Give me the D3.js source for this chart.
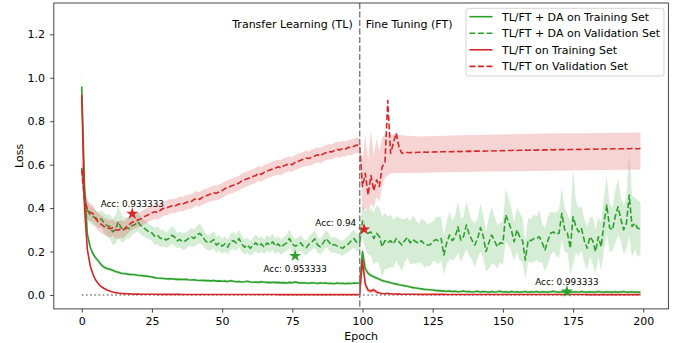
<!DOCTYPE html>
<html><head><meta charset="utf-8">
<script src="https://cdn.jsdelivr.net/npm/d3@7"></script>
<style>body{margin:0;background:#fff}svg{display:block;font-family:"DejaVu Sans",sans-serif}</style>
</head><body><svg id="c" width="678" height="343"></svg>
<script>
// ---------------- DATA ----------------
const epochs = d3.range(200);
const xTicks = [0,25,50,75,100,125,150,175,200];
const yTicks = [0,0.2,0.4,0.6,0.8,1.0,1.2];
const legendLabels = ["TL/FT + DA on Training Set","TL/FT + DA on Validation Set","TL/FT on Training Set","TL/FT on Validation Set"];
const phaseLabels = ["Transfer Learning (TL)","Fine Tuning (FT)"];
const phaseSplit = 99;

const gTrain = [
0.96,0.50,0.28,0.22,0.19,0.17,0.155,0.138,0.128,0.122,
0.118,0.114,0.108,0.105,0.100,0.099,0.097,0.095,0.094,0.093,
0.091,0.090,0.088,0.087,0.085,0.083,0.080,0.078,0.077,0.076,
0.075,0.074,0.075,0.073,0.072,0.072,0.071,0.072,0.070,0.069,
0.070,0.068,0.067,0.068,0.066,0.066,0.065,0.067,0.064,0.065,
0.063,0.064,0.062,0.066,0.063,0.061,0.062,0.060,0.061,0.063,
0.060,0.059,0.060,0.058,0.061,0.059,0.058,0.057,0.059,0.057,
0.058,0.056,0.057,0.055,0.058,0.056,0.060,0.057,0.055,0.056,
0.055,0.054,0.056,0.055,0.053,0.056,0.054,0.055,0.053,0.054,
0.052,0.055,0.053,0.054,0.052,0.054,0.053,0.055,0.054,0.055,
0.200,0.120,0.100,0.090,0.084,0.078,0.072,0.067,0.063,0.060,
0.056,0.053,0.050,0.047,0.045,0.042,0.040,0.037,0.034,0.032,
0.030,0.028,0.026,0.025,0.024,0.023,0.021,0.020,0.019,0.018,
0.017,0.018,0.016,0.017,0.015,0.016,0.018,0.015,0.016,0.014,
0.015,0.017,0.014,0.016,0.015,0.013,0.016,0.014,0.015,0.017,
0.014,0.015,0.013,0.016,0.014,0.015,0.013,0.014,0.016,0.013,
0.015,0.014,0.016,0.013,0.015,0.014,0.013,0.015,0.017,0.014,
0.013,0.015,0.014,0.016,0.013,0.014,0.015,0.013,0.016,0.014,
0.013,0.015,0.014,0.013,0.016,0.014,0.013,0.015,0.014,0.013,
0.015,0.013,0.014,0.016,0.013,0.014,0.015,0.013,0.014,0.012];

const gTrainSd = [
0.100,0.050,0.025,0.015,0.012,0.010,0.009,0.008,0.008,0.008,
0.008,0.007,0.008,0.007,0.007,0.008,0.007,0.007,0.006,0.007,
0.007,0.006,0.007,0.007,0.006,0.007,0.006,0.006,0.007,0.006,
0.006,0.007,0.006,0.006,0.007,0.006,0.006,0.007,0.006,0.006,
0.006,0.007,0.006,0.006,0.007,0.006,0.006,0.007,0.006,0.006,
0.006,0.007,0.006,0.006,0.007,0.006,0.006,0.007,0.006,0.006,
0.006,0.007,0.006,0.006,0.007,0.006,0.006,0.007,0.006,0.006,
0.006,0.007,0.006,0.006,0.007,0.006,0.006,0.007,0.006,0.006,
0.006,0.007,0.006,0.006,0.007,0.006,0.006,0.007,0.006,0.006,
0.006,0.007,0.006,0.006,0.007,0.006,0.006,0.007,0.006,0.006,
0.030,0.015,0.012,0.010,0.009,0.009,0.008,0.008,0.007,0.007,
0.007,0.006,0.007,0.006,0.006,0.007,0.006,0.006,0.007,0.006,
0.007,0.006,0.007,0.006,0.006,0.007,0.006,0.006,0.007,0.006,
0.007,0.006,0.007,0.006,0.006,0.007,0.006,0.006,0.007,0.006,
0.007,0.006,0.007,0.006,0.006,0.007,0.006,0.006,0.007,0.006,
0.007,0.006,0.007,0.006,0.006,0.007,0.006,0.006,0.007,0.006,
0.007,0.006,0.007,0.006,0.006,0.007,0.006,0.006,0.007,0.006,
0.007,0.006,0.007,0.006,0.006,0.007,0.006,0.006,0.007,0.006,
0.007,0.006,0.007,0.006,0.006,0.007,0.006,0.006,0.007,0.006,
0.007,0.006,0.007,0.006,0.006,0.007,0.006,0.006,0.007,0.006];

const gVal = [
0.585,0.440,0.390,0.370,0.360,0.355,0.345,0.350,0.330,0.320,
0.315,0.290,0.300,0.337,0.310,0.300,0.310,0.305,0.320,0.325,
0.337,0.320,0.310,0.300,0.290,0.285,0.270,0.275,0.260,0.262,
0.253,0.260,0.275,0.268,0.250,0.255,0.245,0.250,0.260,0.268,
0.260,0.275,0.284,0.270,0.250,0.240,0.245,0.255,0.230,0.240,
0.225,0.235,0.220,0.245,0.250,0.240,0.260,0.235,0.220,0.230,
0.215,0.228,0.240,0.225,0.235,0.220,0.240,0.230,0.245,0.225,
0.235,0.220,0.232,0.240,0.260,0.235,0.225,0.230,0.240,0.222,
0.218,0.235,0.245,0.258,0.230,0.222,0.240,0.260,0.245,0.228,
0.232,0.225,0.220,0.215,0.228,0.235,0.250,0.260,0.240,0.245,
0.340,0.300,0.284,0.290,0.260,0.284,0.270,0.222,0.250,0.240,
0.250,0.235,0.260,0.245,0.230,0.250,0.265,0.240,0.255,0.245,
0.238,0.250,0.235,0.230,0.230,0.245,0.255,0.250,0.260,0.184,
0.240,0.276,0.250,0.268,0.314,0.253,0.270,0.322,0.280,0.253,
0.230,0.260,0.310,0.270,0.200,0.240,0.276,0.250,0.222,0.240,
0.238,0.368,0.337,0.300,0.245,0.300,0.268,0.250,0.161,0.253,
0.250,0.260,0.262,0.268,0.240,0.207,0.250,0.284,0.290,0.280,
0.284,0.376,0.300,0.284,0.215,0.360,0.314,0.290,0.306,0.250,
0.215,0.268,0.250,0.200,0.268,0.222,0.330,0.414,0.310,0.300,
0.360,0.406,0.350,0.300,0.330,0.460,0.315,0.330,0.307,0.305];

const gValSd = [
0.060,0.050,0.045,0.040,0.040,0.035,0.035,0.040,0.045,0.050,
0.055,0.060,0.065,0.070,0.065,0.055,0.050,0.045,0.045,0.040,
0.045,0.040,0.040,0.038,0.035,0.035,0.040,0.042,0.040,0.036,
0.035,0.038,0.042,0.040,0.035,0.036,0.040,0.038,0.036,0.040,
0.040,0.042,0.045,0.040,0.036,0.035,0.038,0.040,0.036,0.035,
0.035,0.036,0.034,0.038,0.040,0.036,0.040,0.038,0.035,0.034,
0.034,0.035,0.038,0.036,0.035,0.034,0.036,0.035,0.038,0.035,
0.036,0.034,0.035,0.038,0.040,0.036,0.035,0.034,0.036,0.035,
0.034,0.036,0.038,0.040,0.036,0.035,0.038,0.040,0.038,0.035,
0.036,0.035,0.034,0.035,0.036,0.038,0.040,0.042,0.040,0.040,
0.075,0.090,0.100,0.110,0.120,0.130,0.130,0.140,0.130,0.120,
0.120,0.110,0.100,0.110,0.120,0.100,0.090,0.100,0.110,0.100,
0.090,0.100,0.110,0.095,0.100,0.090,0.100,0.110,0.100,0.090,
0.100,0.110,0.090,0.100,0.120,0.100,0.090,0.110,0.100,0.090,
0.100,0.090,0.110,0.100,0.090,0.120,0.130,0.110,0.100,0.090,
0.100,0.120,0.110,0.100,0.090,0.100,0.110,0.100,0.090,0.100,
0.100,0.110,0.100,0.120,0.090,0.100,0.110,0.100,0.090,0.100,
0.110,0.120,0.100,0.090,0.120,0.220,0.120,0.110,0.100,0.100,
0.100,0.090,0.110,0.100,0.090,0.110,0.120,0.130,0.110,0.100,
0.120,0.130,0.100,0.110,0.120,0.190,0.140,0.120,0.130,0.120];

const rTrain = [
0.920,0.400,0.210,0.135,0.095,0.068,0.050,0.038,0.030,0.023,
0.018,0.014,0.011,0.009,0.0075,0.0065,0.0055,0.005,0.0045,0.004,
0.0038,0.0036,0.0035,0.0034,0.0033,0.0032,0.0031,0.003,0.003,0.0029,
0.0029,0.0028,0.0028,0.0027,0.0027,0.0027,0.0026,0.0026,0.0026,0.0025,
0.0025,0.0025,0.0025,0.0024,0.0024,0.0024,0.0024,0.0023,0.0023,0.0023,
0.0023,0.0023,0.0022,0.0022,0.0022,0.0022,0.0022,0.0021,0.0021,0.0021,
0.0021,0.0021,0.0021,0.002,0.002,0.002,0.002,0.002,0.002,0.002,
0.0019,0.0019,0.0019,0.0019,0.0019,0.0019,0.0019,0.0019,0.0019,0.0019,
0.0019,0.0019,0.0018,0.0018,0.0018,0.0018,0.0018,0.0018,0.0018,0.0018,
0.0018,0.0018,0.0018,0.0018,0.0018,0.0018,0.0018,0.0018,0.0018,0.0018,
0.160,0.050,0.022,0.018,0.024,0.014,0.009,0.007,0.006,0.008,
0.005,0.0045,0.004,0.0038,0.0036,0.0035,0.0034,0.0033,0.0032,0.0031,
0.003,0.003,0.0029,0.0029,0.0028,0.0028,0.0028,0.0027,0.0027,0.0027,
0.0026,0.0026,0.0026,0.0026,0.0025,0.0025,0.0025,0.0025,0.0025,0.0024,
0.0024,0.0024,0.0024,0.0024,0.0023,0.0023,0.0023,0.0023,0.0023,0.0023,
0.0022,0.0022,0.0022,0.0022,0.0022,0.0022,0.0022,0.0021,0.0021,0.0021,
0.0021,0.0021,0.0021,0.0021,0.0021,0.002,0.002,0.002,0.002,0.002,
0.002,0.002,0.002,0.002,0.002,0.002,0.002,0.002,0.002,0.002,
0.0019,0.0019,0.0019,0.0019,0.0019,0.0019,0.0019,0.0019,0.0019,0.0019,
0.0019,0.0019,0.0019,0.0019,0.0019,0.0019,0.0019,0.0019,0.0019,0.0019];

const rTrainSd = [
0.080,0.040,0.020,0.012,0.008,0.006,0.005,0.004,0.003,0.003,
0.002,0.002,0.002,0.002,0.002,0.002,0.002,0.002,0.002,0.002,
0.001,0.001,0.001,0.001,0.001,0.001,0.001,0.001,0.001,0.001,
0.001,0.001,0.001,0.001,0.001,0.001,0.001,0.001,0.001,0.001,
0.001,0.001,0.001,0.001,0.001,0.001,0.001,0.001,0.001,0.001,
0.001,0.001,0.001,0.001,0.001,0.001,0.001,0.001,0.001,0.001,
0.001,0.001,0.001,0.001,0.001,0.001,0.001,0.001,0.001,0.001,
0.001,0.001,0.001,0.001,0.001,0.001,0.001,0.001,0.001,0.001,
0.001,0.001,0.001,0.001,0.001,0.001,0.001,0.001,0.001,0.001,
0.001,0.001,0.001,0.001,0.001,0.001,0.001,0.001,0.001,0.001,
0.040,0.020,0.010,0.010,0.012,0.008,0.005,0.003,0.003,0.004,
0.002,0.002,0.002,0.002,0.002,0.002,0.002,0.002,0.002,0.002,
0.001,0.001,0.001,0.001,0.001,0.001,0.001,0.001,0.001,0.001,
0.001,0.001,0.001,0.001,0.001,0.001,0.001,0.001,0.001,0.001,
0.001,0.001,0.001,0.001,0.001,0.001,0.001,0.001,0.001,0.001,
0.001,0.001,0.001,0.001,0.001,0.001,0.001,0.001,0.001,0.001,
0.001,0.001,0.001,0.001,0.001,0.001,0.001,0.001,0.001,0.001,
0.001,0.001,0.001,0.001,0.001,0.001,0.001,0.001,0.001,0.001,
0.001,0.001,0.001,0.001,0.001,0.001,0.001,0.001,0.001,0.001,
0.001,0.001,0.001,0.001,0.001,0.001,0.001,0.001,0.001,0.001];

const rVal = [
0.575,0.440,0.395,0.380,0.375,0.350,0.335,0.325,0.315,0.310,
0.305,0.310,0.300,0.298,0.305,0.300,0.315,0.325,0.335,0.340,
0.345,0.350,0.360,0.365,0.372,0.378,0.383,0.380,0.390,0.398,
0.400,0.405,0.410,0.408,0.415,0.420,0.418,0.425,0.430,0.430,
0.440,0.445,0.440,0.450,0.455,0.460,0.465,0.470,0.468,0.475,
0.480,0.490,0.495,0.500,0.505,0.510,0.515,0.525,0.530,0.535,
0.540,0.545,0.550,0.560,0.555,0.565,0.570,0.575,0.580,0.585,
0.590,0.585,0.595,0.600,0.605,0.600,0.610,0.615,0.620,0.625,
0.630,0.628,0.635,0.640,0.645,0.640,0.650,0.655,0.660,0.658,
0.665,0.670,0.668,0.675,0.672,0.680,0.678,0.685,0.690,0.685,
0.500,0.560,0.460,0.550,0.480,0.530,0.500,0.590,0.610,0.895,
0.652,0.700,0.745,0.680,0.652,0.655,0.656,0.655,0.657,0.656,
0.657,0.657,0.658,0.657,0.658,0.658,0.659,0.658,0.659,0.659,
0.660,0.659,0.660,0.660,0.661,0.660,0.661,0.661,0.662,0.661,
0.662,0.662,0.663,0.662,0.663,0.663,0.664,0.663,0.664,0.664,
0.665,0.664,0.665,0.665,0.666,0.665,0.666,0.666,0.667,0.666,
0.667,0.667,0.667,0.668,0.667,0.668,0.668,0.669,0.668,0.669,
0.669,0.669,0.670,0.669,0.670,0.670,0.670,0.671,0.670,0.671,
0.671,0.671,0.672,0.671,0.672,0.672,0.672,0.673,0.672,0.673,
0.673,0.672,0.673,0.673,0.674,0.673,0.674,0.674,0.673,0.674];

const rValLo = [
0.525,0.390,0.350,0.340,0.335,0.310,0.295,0.285,0.275,0.270,
0.265,0.272,0.260,0.256,0.265,0.262,0.279,0.290,0.300,0.305,
0.310,0.317,0.325,0.331,0.339,0.343,0.349,0.347,0.355,0.364,
0.367,0.371,0.377,0.374,0.382,0.386,0.385,0.391,0.397,0.396,
0.406,0.412,0.407,0.416,0.421,0.427,0.431,0.436,0.434,0.441,
0.446,0.456,0.461,0.467,0.470,0.476,0.481,0.490,0.496,0.500,
0.506,0.511,0.515,0.526,0.521,0.530,0.536,0.541,0.545,0.551,
0.556,0.550,0.561,0.566,0.570,0.566,0.575,0.580,0.586,0.590,
0.595,0.594,0.600,0.606,0.610,0.605,0.615,0.620,0.625,0.623,
0.630,0.635,0.632,0.640,0.636,0.645,0.642,0.650,0.655,0.650,
0.390,0.400,0.380,0.420,0.400,0.450,0.430,0.500,0.540,0.550,
0.560,0.560,0.562,0.562,0.562,0.562,0.563,0.563,0.563,0.563,
0.563,0.563,0.564,0.563,0.564,0.564,0.564,0.565,0.564,0.565,
0.565,0.565,0.566,0.565,0.566,0.566,0.566,0.567,0.566,0.567,
0.567,0.567,0.568,0.567,0.568,0.568,0.568,0.569,0.568,0.569,
0.569,0.569,0.570,0.569,0.570,0.570,0.570,0.571,0.570,0.571,
0.571,0.571,0.571,0.572,0.571,0.572,0.572,0.572,0.572,0.573,
0.572,0.573,0.573,0.573,0.573,0.573,0.574,0.573,0.574,0.574,
0.574,0.574,0.574,0.575,0.574,0.575,0.575,0.575,0.575,0.576,
0.575,0.576,0.576,0.576,0.576,0.577,0.576,0.577,0.577,0.577];

const rValHi = [
0.625,0.490,0.440,0.420,0.415,0.390,0.375,0.365,0.355,0.350,
0.345,0.348,0.340,0.340,0.345,0.338,0.351,0.360,0.370,0.375,
0.380,0.383,0.395,0.399,0.405,0.413,0.417,0.413,0.425,0.432,
0.433,0.439,0.443,0.442,0.448,0.454,0.451,0.459,0.463,0.464,
0.474,0.478,0.473,0.484,0.489,0.493,0.499,0.504,0.502,0.509,
0.514,0.524,0.529,0.533,0.540,0.544,0.549,0.560,0.564,0.570,
0.574,0.579,0.585,0.594,0.589,0.600,0.604,0.609,0.615,0.619,
0.624,0.620,0.629,0.634,0.640,0.634,0.645,0.650,0.654,0.660,
0.665,0.662,0.670,0.674,0.680,0.675,0.685,0.690,0.695,0.693,
0.700,0.705,0.704,0.710,0.708,0.715,0.714,0.720,0.725,0.720,
0.620,0.740,0.620,0.760,0.640,0.720,0.660,0.720,0.740,0.745,
0.740,0.738,0.745,0.736,0.735,0.734,0.733,0.733,0.732,0.731,
0.730,0.730,0.731,0.731,0.731,0.732,0.732,0.732,0.733,0.733,
0.733,0.734,0.734,0.734,0.735,0.735,0.735,0.736,0.736,0.736,
0.737,0.737,0.737,0.737,0.738,0.738,0.738,0.739,0.739,0.739,
0.739,0.740,0.740,0.740,0.740,0.741,0.741,0.741,0.741,0.742,
0.742,0.742,0.742,0.742,0.743,0.743,0.743,0.743,0.743,0.744,
0.744,0.744,0.744,0.744,0.744,0.745,0.745,0.745,0.745,0.745,
0.745,0.745,0.746,0.746,0.746,0.746,0.746,0.746,0.746,0.747,
0.747,0.747,0.747,0.747,0.747,0.747,0.747,0.748,0.748,0.748];

const starEpochs = [18, 76, 100.6, 172.8];
const starValues = [0.374, 0.180, 0.302, 0.016];
const starLabels = ["Acc: 0.933333", "Acc: 0.953333", "Acc: 0.94", "Acc: 0.993333"];
const starSeries = [1, 0, 1, 0]; // 0 = green (DA), 1 = red

// ---------------- CHART ----------------
const W = 678, H = 343;
const m = {l: 53.8, r: 9.6, t: 3, b: 34.1};
const GREEN = "#2ca02c", RED = "#d62728";
const FS = 11;
const svg = d3.select("#c");
const x = d3.scaleLinear().domain([-9.95, 208.95]).range([m.l, W - m.r]);
const y = d3.scaleLinear().domain([-0.064, 1.344]).range([H - m.b, m.t]);

svg.append("defs").append("clipPath").attr("id", "clip")
  .append("rect").attr("x", m.l).attr("y", m.t)
  .attr("width", W - m.l - m.r).attr("height", H - m.t - m.b);

const plot = svg.append("g").attr("clip-path", "url(#clip)");

// zero reference (dotted)
plot.append("path")
  .attr("d", d3.line()([[x(0), y(0)], [x(199), y(0)]]))
  .attr("stroke", "#808080").attr("stroke-width", 1.5)
  .attr("stroke-dasharray", "1.6,2.6").attr("fill", "none");

const line = d3.line().x((d, i) => x(epochs[i])).y(d => y(d));
function band(lo, hi, color) {
  const area = d3.area().x((d, i) => x(epochs[i])).y0((d, i) => y(lo[i])).y1((d, i) => y(hi[i]));
  plot.append("path").attr("d", area(epochs)).attr("fill", color).attr("fill-opacity", 0.2).attr("stroke", "none");
}
function series(vals, color, dashed) {
  plot.append("path").attr("d", line(vals)).attr("fill", "none")
    .attr("stroke", color).attr("stroke-width", 1.6)
    .attr("stroke-linejoin", "round")
    .attr("stroke-dasharray", dashed ? "5.9,2.6" : null);
}
const lo = (mv, sd) => mv.map((v, i) => v - sd[i]);
const hi = (mv, sd) => mv.map((v, i) => v + sd[i]);

band(lo(gTrain, gTrainSd), hi(gTrain, gTrainSd), GREEN); series(gTrain, GREEN, false);
band(lo(gVal, gValSd), hi(gVal, gValSd), GREEN); series(gVal, GREEN, true);
band(lo(rTrain, rTrainSd), hi(rTrain, rTrainSd), RED); series(rTrain, RED, false);
band(rValLo, rValHi, RED); series(rVal, RED, true);

// phase separator
plot.append("line")
  .attr("x1", x(phaseSplit)).attr("x2", x(phaseSplit))
  .attr("y1", m.t).attr("y2", H - m.b)
  .attr("stroke", "#7f7f7f").attr("stroke-width", 1.5).attr("stroke-dasharray", "5.9,2.6");
svg.append("text").attr("x", x(phaseSplit) - 7).attr("y", 28.3)
  .attr("text-anchor", "end").attr("font-size", FS).text(phaseLabels[0]);
svg.append("text").attr("x", x(phaseSplit) + 6).attr("y", 28.3)
  .attr("text-anchor", "start").attr("font-size", FS).text(phaseLabels[1]);

// stars + annotations
const star = d3.symbol().type(d3.symbolStar).size(46);
const annoPos = [
  {dx: 0, dy: -7, anchor: "middle"},
  {dx: 0, dy: 15.7, anchor: "middle"},
  {dx: -8, dy: -3.5, anchor: "end"},
  {dx: 0, dy: -6.5, anchor: "middle"}
];
starEpochs.forEach((e, i) => {
  const cx = x(e), cy = y(starValues[i]);
  svg.append("path").attr("d", star()).attr("transform", `translate(${cx},${cy})`)
    .attr("fill", starSeries[i] ? RED : GREEN);
  svg.append("text").attr("x", cx + annoPos[i].dx).attr("y", cy + annoPos[i].dy)
    .attr("text-anchor", annoPos[i].anchor).attr("font-size", 8.8).text(starLabels[i]);
});

// axes
const xa = svg.append("g").attr("transform", `translate(0,${H - m.b})`)
  .call(d3.axisBottom(x).tickValues(xTicks).tickFormat(d3.format("d")).tickSize(3.7).tickPadding(4.2));
const ya = svg.append("g").attr("transform", `translate(${m.l},0)`)
  .call(d3.axisLeft(y).tickValues(yTicks).tickFormat(d3.format(".1f")).tickSize(3.7).tickPadding(5));
[xa, ya].forEach(g => {
  g.select(".domain").remove();
  g.selectAll("text").attr("font-size", FS).attr("font-family", "DejaVu Sans").attr("fill", "#000");
  g.selectAll("line").attr("stroke", "#333").attr("stroke-width", 0.9);
});
svg.append("rect").attr("x", m.l).attr("y", m.t)
  .attr("width", W - m.l - m.r).attr("height", H - m.t - m.b)
  .attr("fill", "none").attr("stroke", "#333").attr("stroke-width", 0.9);

svg.append("text").attr("x", (m.l + W - m.r) / 2).attr("y", 339.5)
  .attr("text-anchor", "middle").attr("font-size", FS).text("Epoch");
svg.append("text").attr("transform", `translate(22.7,${(m.t + H - m.b) / 2}) rotate(-90)`)
  .attr("text-anchor", "middle").attr("font-size", FS).text("Loss");

// legend
const lg = svg.append("g");
lg.append("rect").attr("x", 466).attr("y", 8.3).attr("width", 198).attr("height", 67.7)
  .attr("rx", 2.5).attr("fill", "#fff").attr("fill-opacity", 0.8)
  .attr("stroke", "#cccccc").attr("stroke-width", 0.85);
const legColors = [GREEN, GREEN, RED, RED];
const legDash = [false, true, false, true];
legendLabels.forEach((t, i) => {
  const yy = 16.7 + i * 16.55;
  lg.append("line").attr("x1", 469.5).attr("x2", 492.5).attr("y1", yy).attr("y2", yy)
    .attr("stroke", legColors[i]).attr("stroke-width", 1.6)
    .attr("stroke-dasharray", legDash[i] ? "5.9,2.6" : null);
  lg.append("text").attr("x", 502).attr("y", yy).attr("dy", "0.36em")
    .attr("font-size", FS).text(t);
});
</script></body></html>
